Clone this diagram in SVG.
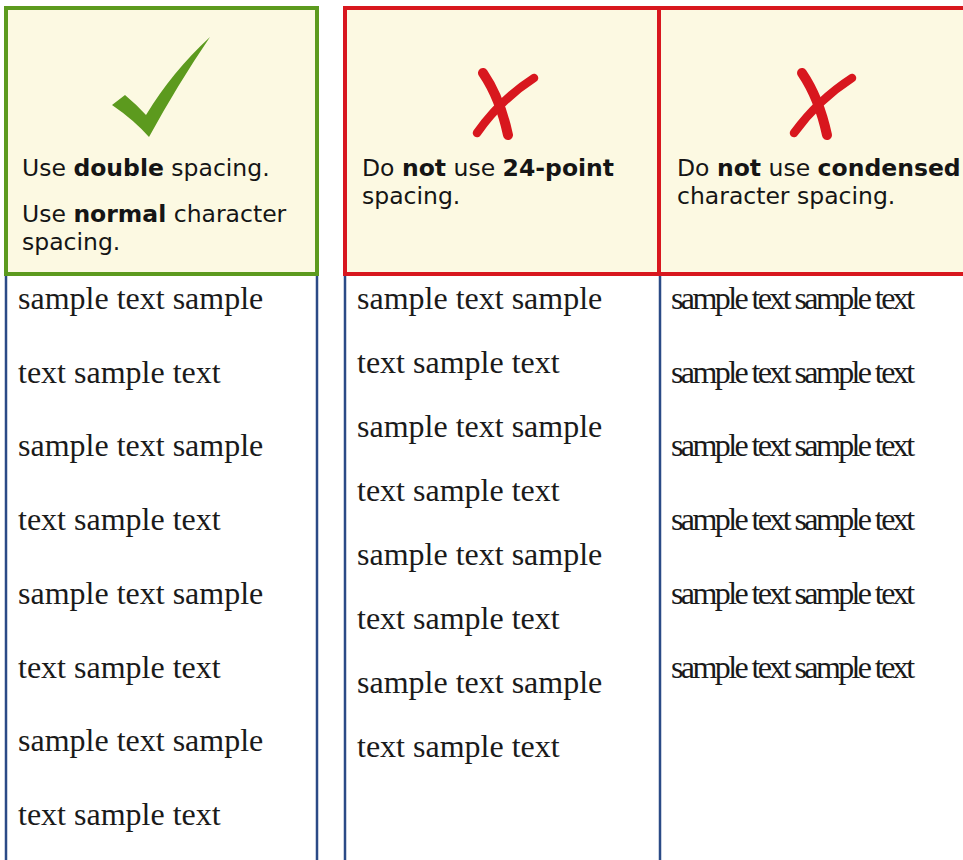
<svg xmlns="http://www.w3.org/2000/svg" width="963" height="860" viewBox="0 0 963 860">
<style>
.hdr{font-family:"DejaVu Sans",Verdana,sans-serif;font-size:23.5px;fill:#151515}
.b{font-weight:bold}
.s{font-family:"Liberation Serif","Times New Roman",serif;font-size:32px;fill:#1a1a1a}
.c{letter-spacing:-2.6px}
.blue{stroke:#2b4a86;stroke-width:2.5;fill:none}
.cream{fill:#fcf9e2}
.x{stroke:#d8171e;stroke-linecap:round;fill:none}
</style>
<rect width="963" height="860" fill="#ffffff"/>
<g id="col1">
<rect class="cream" x="6" y="8" width="311" height="266"/>
<line class="blue" x1="6" y1="274" x2="6" y2="860"/>
<line class="blue" x1="317" y1="274" x2="317" y2="860"/>
<rect x="6" y="8" width="311" height="266" fill="none" stroke="#5c9a1e" stroke-width="4"/>
<path d="M112,105 L125,95 Q137,105 146,115 Q172,72 210,37 Q178,84 149,137 Q134,120 112,105 Z" fill="#5c9a1e"/>
<text class="hdr" x="22" y="176">Use <tspan class="b">double</tspan> spacing.</text>
<text class="hdr" x="22" y="222">Use <tspan class="b">normal</tspan> character</text>
<text class="hdr" x="22" y="250">spacing.</text>
<g class="s">
<text x="18" y="309">sample text sample</text>
<text x="18" y="383">text sample text</text>
<text x="18" y="456">sample text sample</text>
<text x="18" y="530">text sample text</text>
<text x="18" y="604">sample text sample</text>
<text x="18" y="678">text sample text</text>
<text x="18" y="751">sample text sample</text>
<text x="18" y="825">text sample text</text>
</g>
</g>
<g id="col2">
<rect class="cream" x="345" y="8" width="314" height="266"/>
<line class="blue" x1="345" y1="274" x2="345" y2="860"/>
<line class="blue" x1="660" y1="274" x2="660" y2="860"/>
<rect x="345" y="8" width="314" height="266" fill="none" stroke="#d8171e" stroke-width="4"/>
<path class="x" d="M483,73 Q500,98 508,135" stroke-width="10"/>
<path class="x" d="M534,78 Q500,100 477,133" stroke-width="8.5"/>
<text class="hdr" x="362" y="176">Do <tspan class="b">not</tspan> use <tspan class="b">24-point</tspan></text>
<text class="hdr" x="362" y="204">spacing.</text>
<g class="s">
<text x="357" y="309">sample text sample</text>
<text x="357" y="373">text sample text</text>
<text x="357" y="437">sample text sample</text>
<text x="357" y="501">text sample text</text>
<text x="357" y="565">sample text sample</text>
<text x="357" y="629">text sample text</text>
<text x="357" y="693">sample text sample</text>
<text x="357" y="757">text sample text</text>
</g>
</g>
<g id="col3">
<rect class="cream" x="659" y="8" width="310" height="266"/>
<rect x="659" y="8" width="310" height="266" fill="none" stroke="#d8171e" stroke-width="4"/>
<path class="x" d="M802,73 Q819,98 827,135" stroke-width="10"/>
<path class="x" d="M852,78 Q818,100 794,133" stroke-width="8.5"/>
<text class="hdr" x="677" y="176">Do <tspan class="b">not</tspan> use <tspan class="b">condensed</tspan></text>
<text class="hdr" x="677" y="204">character spacing.</text>
<g class="s c">
<text x="671" y="309">sample text sample text</text>
<text x="671" y="383">sample text sample text</text>
<text x="671" y="456">sample text sample text</text>
<text x="671" y="530">sample text sample text</text>
<text x="671" y="604">sample text sample text</text>
<text x="671" y="678">sample text sample text</text>
</g>
</g>
</svg>
